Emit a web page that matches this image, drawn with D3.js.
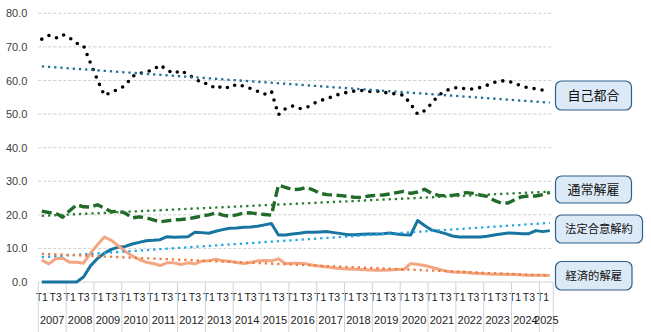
<!DOCTYPE html>
<html><head><meta charset="utf-8">
<script src="https://cdn.jsdelivr.net/npm/d3@7"></script>
<style>
body{margin:0;background:#fff;}
svg{display:block;}
text{font-family:"Liberation Sans",Arial,sans-serif;}
.jp{font-family:"Noto Sans CJK JP","Noto Sans CJK SC",sans-serif;}
</style></head>
<body><svg id="c" width="651" height="332"></svg>
<script>
// ---- data ----
const years = ["2007","2008","2009","2010","2011","2012","2013","2014","2015","2016","2017","2018","2019","2020","2021","2022","2023","2024","2025"];
const quarterNames = ["T1","T2","T3","T4"];
const seriesNames = ["自己都合","通常解雇","法定合意解約","経済的解雇"];
const yTicks = [0,10,20,30,40,50,60,70,80];

const jikoTsugou = [72.3,73.4,72.6,73.7,72.7,71.1,70.4,65.2,60.2,55.5,
  56.6,57.3,58.5,61.2,62.1,62.5,63.2,64.6,63.1,62.1,
  63.0,61.7,60.6,59.2,59.0,57.5,58.4,57.7,58.9,58.3,
  57.6,56.8,55.9,56.8,49.8,51.6,52.4,51.6,51.9,53.1,
  54.0,54.6,55.4,56.1,56.5,56.9,57.0,56.7,56.9,56.5,
  56.2,56.0,55.6,53.0,50.0,51.0,53.1,55.6,56.9,57.7,
  58.0,57.4,57.5,57.9,58.6,59.4,59.9,59.8,59.1,58.3,
  57.8,57.5,57.1,57.0];
const tsujoKaiko = [21.1,20.7,20.5,19.3,21.2,23.0,22.4,22.3,23.0,22.0,
  20.9,21.1,20.5,19.1,19.4,19.1,18.5,17.9,18.2,18.5,
  18.6,18.8,19.2,19.7,20.0,20.6,19.9,19.6,20.0,20.5,
  20.6,20.3,20.1,19.9,28.8,28.2,27.5,27.6,28.2,27.4,
  26.4,26.0,25.9,25.7,25.5,25.2,25.2,25.6,25.8,25.9,
  26.2,26.6,27.0,26.4,26.8,27.6,26.4,25.8,25.7,25.8,
  26.1,26.6,26.4,25.9,25.5,24.3,23.5,23.5,24.6,25.4,
  25.6,25.6,26.0,26.7];
const houteiGoui = [0,0,0,0,0,0,1.5,4.8,7.0,8.6,
  9.7,10.4,10.6,11.3,11.8,12.3,12.4,12.6,13.5,13.3,
  13.4,13.5,14.8,14.7,14.5,15.1,15.6,16.0,16.1,16.3,
  16.4,16.6,17.0,17.4,14.0,14.0,14.3,14.5,14.8,14.8,
  14.9,15.0,14.7,14.4,14.1,14.1,14.2,14.3,14.3,14.4,
  14.6,14.3,14.1,14.0,18.3,16.8,15.5,15.0,14.4,13.7,
  13.4,13.4,13.4,13.4,13.6,14.0,14.3,14.6,14.5,14.4,
  14.4,15.3,15.0,15.3];
const keizaiKaiko = [6.5,5.4,6.9,7.1,5.9,5.9,5.6,8.6,11.1,13.4,
  12.4,10.8,9.1,7.8,6.7,5.9,5.5,4.9,5.7,5.7,
  5.2,5.7,5.4,6.2,6.3,6.8,6.3,6.2,5.8,5.5,
  5.8,6.3,6.4,6.3,6.9,5.5,5.6,5.6,5.4,5.0,
  4.7,4.5,4.2,4.0,3.9,3.8,3.7,3.6,3.5,3.5,
  3.6,3.7,3.7,5.5,5.2,4.9,4.4,3.8,3.3,3.0,
  2.9,2.8,2.6,2.5,2.4,2.3,2.3,2.2,2.2,2.1,
  2.0,2.0,2.0,1.9];
// linear trend lines: value at first and last quarter
const trendStart = [64.2,19.7,7.4,8.4];
const trendEnd   = [53.4,26.9,17.6,1.9];

// ---- build categories ----
const cats = [];
years.forEach((y,yi)=>{
  const nq = (y==="2025") ? 2 : 4;
  for(let q=0;q<nq;q++) cats.push({key:y+"-"+q, year:y, q:q});
});
const allSeries = [jikoTsugou,tsujoKaiko,houteiGoui,keizaiKaiko];

const svg = d3.select("#c");
const L = 38.3, R = 553.3, T = 13.3, B = 282;
const x = d3.scaleBand().domain(cats.map(c=>c.key)).range([L,R]).paddingInner(0).paddingOuter(0);
const y = d3.scaleLinear().domain([0,80]).range([B,T]);
const cx = k => x(k) + x.bandwidth()/2;

// gridlines
svg.append("g").selectAll("line").data(yTicks.filter(t=>t>0)).join("line")
  .attr("x1",L).attr("x2",R).attr("y1",d=>y(d)).attr("y2",d=>y(d))
  .attr("stroke","#cfcfcf").attr("stroke-width",1).attr("stroke-dasharray","3,2");
// y axis labels
const ya = d3.axisLeft(y).tickValues(yTicks).tickFormat(d3.format(".1f")).tickSize(0).tickPadding(11);
const yg = svg.append("g").attr("transform",`translate(${L},0)`).call(ya);
yg.select(".domain").remove();
yg.selectAll("text").attr("font-size",11).attr("fill","#404040").attr("font-family","'Liberation Sans',Arial,sans-serif");

// x axis baseline
svg.append("line").attr("x1",L).attr("x2",R).attr("y1",B).attr("y2",B).attr("stroke","#d4d4d4");
// x axis quarter labels via axis
const xa = d3.axisBottom(x).tickSize(0).tickPadding(12)
  .tickFormat(k=>{const c=cats.find(d=>d.key===k); return (c.q===0||c.q===2)?quarterNames[c.q]:"";});
const xg = svg.append("g").attr("transform",`translate(0,${B})`).call(xa);
xg.select(".domain").remove();
xg.selectAll("text").attr("font-size",10.5).attr("fill","#222").attr("font-family","'Liberation Sans',Arial,sans-serif");

// year separators
const firstKeys = cats.filter(c=>c.q===0).map(c=>c.key);
svg.append("g").selectAll("line").data(firstKeys).join("line")
  .attr("x1",d=>x(d)).attr("x2",d=>x(d)).attr("y1",B).attr("y2",332)
  .attr("stroke","#d4d4d4");
svg.append("line").attr("x1",R).attr("x2",R).attr("y1",B).attr("y2",332).attr("stroke","#d4d4d4");
// year labels
svg.append("g").selectAll("text").data(years).join("text")
  .attr("x",yr=>{const ks=cats.filter(c=>c.year===yr); return (x(ks[0].key)+x(ks[ks.length-1].key)+x.bandwidth())/2;})
  .attr("y",324).attr("text-anchor","middle").attr("font-size",11).attr("fill","#222").text(d=>d);

// series lines
const line = d3.line().x((d,i)=>cx(cats[i].key)).y(d=>y(d));
const styles = [
  {stroke:"#000", w:3.6, dash:"0,8.1", cap:"round"},
  {stroke:"#1f6b27", w:3.4, dash:"10,4.5", cap:"butt"},
  {stroke:"#17759f", w:3, dash:null, cap:"butt"},
  {stroke:"#f4a683", w:3, dash:null, cap:"butt"}
];
allSeries.forEach((s,si)=>{
  const st=styles[si];
  svg.append("path").datum(s).attr("d",line).attr("fill","none")
    .attr("stroke",st.stroke).attr("stroke-width",st.w)
    .attr("stroke-dasharray",st.dash).attr("stroke-linecap",st.cap).attr("stroke-linejoin","round");
});
// trend lines
const trendColors = ["#226f96","#2b7a30","#22a7e4","#ec7b3d"];
const lastKey = cats[cats.length-1].key, firstKey = cats[0].key;
trendStart.forEach((v,ti)=>{
  svg.append("line").attr("x1",cx(firstKey)).attr("x2",cx(lastKey))
    .attr("y1",y(v)).attr("y2",y(trendEnd[ti]))
    .attr("stroke",trendColors[ti]).attr("stroke-width",2.3)
    .attr("stroke-dasharray","2.3,3.9");
});

// legend callouts
const boxes = [
  {x:555.5,y:81,w:76,h:29,fs:13},
  {x:555.5,y:176,w:76,h:27,fs:13},
  {x:555.5,y:215,w:87,h:28,fs:11.3},
  {x:555.5,y:261.5,w:76.5,h:28.5,fs:11.3}
];
const lg = svg.append("g").selectAll("g").data(seriesNames).join("g");
lg.append("rect").attr("x",(d,i)=>boxes[i].x).attr("y",(d,i)=>boxes[i].y)
  .attr("width",(d,i)=>boxes[i].w).attr("height",(d,i)=>boxes[i].h)
  .attr("rx",6).attr("fill","#dce9f6").attr("stroke","#2f5f87").attr("stroke-width",1.2);
lg.append("text").attr("class","jp")
  .attr("x",(d,i)=>boxes[i].x+boxes[i].w/2).attr("y",(d,i)=>boxes[i].y+boxes[i].h/2)
  .attr("dy","0.36em").attr("text-anchor","middle")
  .attr("font-size",(d,i)=>boxes[i].fs).attr("fill","#111").text(d=>d);
</script></body></html>
